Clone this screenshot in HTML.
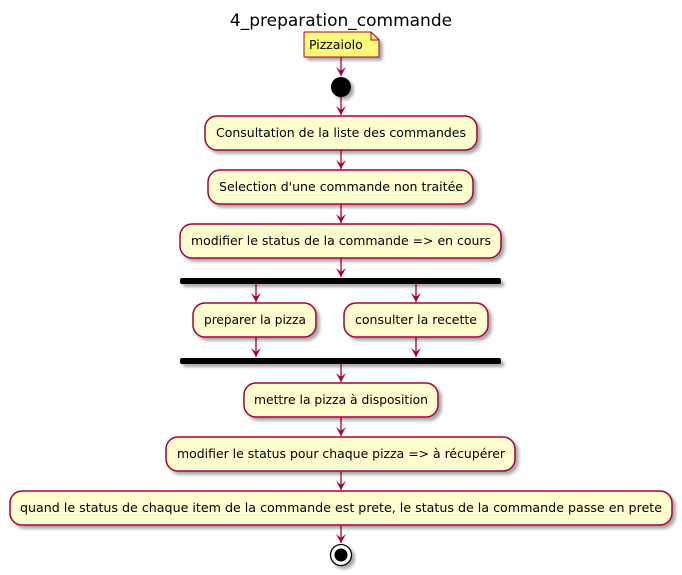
<!DOCTYPE html>
<html><head><meta charset="utf-8"><style>body{margin:0;background:#fff}svg{display:block}</style></head><body>
<svg width="682" height="575" xmlns="http://www.w3.org/2000/svg" font-family="DejaVu Sans, Liberation Sans, sans-serif">
<defs>
<filter id="sh" x="-10%" y="-20%" width="130%" height="160%"><feGaussianBlur in="SourceAlpha" stdDeviation="1.5"/><feOffset dx="3" dy="3"/><feComponentTransfer><feFuncA type="linear" slope="0.35"/></feComponentTransfer><feMerge><feMergeNode/><feMergeNode in="SourceGraphic"/></feMerge></filter>
<marker id="ar" markerWidth="10" markerHeight="10" refX="9" refY="5" orient="auto" markerUnits="userSpaceOnUse"><path d="M0,0 L9,5 L0,10 L4,5 Z" fill="#A80036"/></marker>
</defs>
<text x="341" y="26" font-size="17" text-anchor="middle" fill="#000">4_preparation_commande</text>
<path d="M304,32 H371 L379,40 V57 H304 Z" fill="#FBFB77" stroke="#A80036" stroke-width="1" filter="url(#sh)"/>
<path d="M371,32 V40 H379" fill="none" stroke="#A80036"/>
<text x="309" y="49" font-size="12.5">Pizzaiolo</text>
<g stroke="#A80036" stroke-width="1.3" fill="none" marker-end="url(#ar)">
<line x1="341" y1="57" x2="341" y2="76"/>
<line x1="341" y1="97" x2="341" y2="115"/>
<line x1="341" y1="150" x2="341" y2="169"/>
<line x1="341" y1="204" x2="341" y2="223"/>
<line x1="341" y1="258" x2="341" y2="277"/>
<line x1="256" y1="284" x2="256" y2="302"/>
<line x1="416" y1="284" x2="416" y2="302"/>
<line x1="256" y1="337" x2="256" y2="357"/>
<line x1="416" y1="337" x2="416" y2="357"/>
<line x1="341" y1="364" x2="341" y2="382"/>
<line x1="341" y1="417" x2="341" y2="436"/>
<line x1="341" y1="471" x2="341" y2="490"/>
<line x1="341" y1="525" x2="341" y2="543"/>
</g>
<circle cx="341" cy="87" r="10" fill="#000" filter="url(#sh)"/>
<g fill="#FEFECE" stroke="#A80036" stroke-width="1.5" filter="url(#sh)">
<rect x="205" y="116" width="272" height="34" rx="12"/>
<rect x="208" y="170" width="265" height="34" rx="12"/>
<rect x="180" y="224" width="321" height="34" rx="12"/>
<rect x="193" y="303" width="123" height="34" rx="12"/>
<rect x="344" y="303" width="144" height="34" rx="12"/>
<rect x="244" y="383" width="194" height="34" rx="12"/>
<rect x="166" y="437" width="349" height="34" rx="12"/>
<rect x="10" y="491" width="662" height="34" rx="12"/>
</g>
<g fill="#000" filter="url(#sh)">
<rect x="180" y="278" width="321" height="6" rx="2"/>
<rect x="180" y="358" width="321" height="6" rx="2"/>
</g>
<g font-size="12" fill="#000" text-anchor="middle">
<text x="341" y="137" textLength="250" lengthAdjust="spacingAndGlyphs">Consultation de la liste des commandes</text>
<text x="341" y="191" textLength="244" lengthAdjust="spacingAndGlyphs">Selection d'une commande non traitée</text>
<text x="341" y="245" textLength="300" lengthAdjust="spacingAndGlyphs">modifier le status de la commande =&gt; en cours</text>
<text x="255" y="324" textLength="102" lengthAdjust="spacingAndGlyphs">preparer la pizza</text>
<text x="416" y="324" textLength="122" lengthAdjust="spacingAndGlyphs">consulter la recette</text>
<text x="341" y="404" textLength="174" lengthAdjust="spacingAndGlyphs">mettre la pizza à disposition</text>
<text x="341" y="458" textLength="328" lengthAdjust="spacingAndGlyphs">modifier le status pour chaque pizza =&gt; à récupérer</text>
<text x="341" y="512" textLength="642" lengthAdjust="spacingAndGlyphs">quand le status de chaque item de la commande est prete, le status de la commande passe en prete</text>
</g>
<circle cx="341" cy="555" r="10.5" fill="#fff" stroke="#000" stroke-width="1.3" filter="url(#sh)"/>
<circle cx="341" cy="555" r="6.5" fill="#000"/>
</svg>
</body></html>
